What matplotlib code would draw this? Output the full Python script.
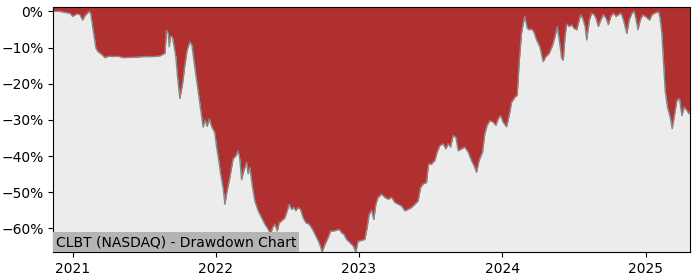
import numpy as np
import pandas as pd
import matplotlib
matplotlib.use("Agg")
import matplotlib.pyplot as plt
import matplotlib.dates as mdates
from matplotlib.ticker import PercentFormatter

# time as decimal years, drawdown in percent
years = [
    2020.865, 2020.911, 2020.946, 2020.981, 2021.000, 2021.028, 2021.051, 2021.070, 2021.086, 2021.116,
    2021.126, 2021.140, 2021.151, 2021.163, 2021.179, 2021.203, 2021.226, 2021.249, 2021.284, 2021.318,
    2021.353, 2021.423, 2021.493, 2021.563, 2021.610, 2021.645, 2021.656, 2021.668, 2021.675, 2021.684,
    2021.698, 2021.709, 2021.721, 2021.733, 2021.749, 2021.768, 2021.784, 2021.800, 2021.819, 2021.833,
    2021.847, 2021.866, 2021.889, 2021.912, 2021.926, 2021.940, 2021.954, 2021.973, 2021.992, 2022.006,
    2022.024, 2022.034, 2022.052, 2022.064, 2022.075, 2022.098, 2022.121, 2022.140, 2022.156, 2022.168,
    2022.180, 2022.196, 2022.215, 2022.226, 2022.238, 2022.257, 2022.273, 2022.296, 2022.320, 2022.343,
    2022.366, 2022.383, 2022.397, 2022.413, 2022.429, 2022.443, 2022.460, 2022.483, 2022.499, 2022.513,
    2022.529, 2022.545, 2022.559, 2022.575, 2022.592, 2022.610, 2022.629, 2022.652, 2022.676, 2022.699,
    2022.722, 2022.743, 2022.762, 2022.785, 2022.802, 2022.820, 2022.844, 2022.862, 2022.879, 2022.895,
    2022.913, 2022.936, 2022.960, 2022.978, 2022.994, 2023.018, 2023.041, 2023.057, 2023.071, 2023.088,
    2023.104, 2023.118, 2023.134, 2023.158, 2023.181, 2023.204, 2023.228, 2023.251, 2023.274, 2023.298,
    2023.321, 2023.344, 2023.367, 2023.390, 2023.413, 2023.430, 2023.448, 2023.472, 2023.486, 2023.507,
    2023.530, 2023.546, 2023.565, 2023.588, 2023.607, 2023.623, 2023.640, 2023.658, 2023.677, 2023.693,
    2023.716, 2023.739, 2023.763, 2023.786, 2023.809, 2023.821, 2023.839, 2023.863, 2023.879, 2023.895,
    2023.914, 2023.937, 2023.956, 2023.972, 2023.989, 2024.007, 2024.031, 2024.049, 2024.066, 2024.089,
    2024.105, 2024.119, 2024.135, 2024.147, 2024.158, 2024.175, 2024.189, 2024.205, 2024.221, 2024.240,
    2024.263, 2024.286, 2024.305, 2024.328, 2024.352, 2024.368, 2024.384, 2024.398, 2024.415, 2024.426,
    2024.438, 2024.450, 2024.468, 2024.485, 2024.501, 2024.520, 2024.531, 2024.547, 2024.561, 2024.578,
    2024.589, 2024.608, 2024.624, 2024.640, 2024.654, 2024.670, 2024.687, 2024.705, 2024.724, 2024.740,
    2024.757, 2024.775, 2024.794, 2024.810, 2024.829, 2024.845, 2024.869, 2024.885, 2024.904, 2024.920,
    2024.934, 2024.946, 2024.962, 2024.980, 2024.997, 2025.013, 2025.027, 2025.043, 2025.059, 2025.078,
    2025.089, 2025.101, 2025.113, 2025.124, 2025.136, 2025.152, 2025.171, 2025.185, 2025.199, 2025.218,
    2025.236, 2025.253, 2025.269, 2025.288, 2025.302, 2025.311,
]
drawdown = [
    0.0, 0.0, -0.3, -0.5, -1.4, -0.7, -0.9, -2.4, -1.2, 0.0,
    -0.5, -4.2, -7.0, -10.2, -11.2, -11.9, -12.8, -12.4, -12.5, -12.4,
    -12.8, -12.7, -12.5, -12.5, -12.3, -11.6, -5.3, -6.1, -9.8, -6.8,
    -7.2, -9.8, -12.5, -18.1, -24.1, -20.0, -14.9, -10.7, -8.4, -9.3,
    -13.5, -19.0, -25.5, -32.0, -30.0, -31.8, -29.7, -32.0, -33.4, -37.5,
    -42.0, -44.9, -49.1, -53.3, -50.5, -45.9, -40.8, -39.9, -38.5, -40.8,
    -46.5, -44.0, -41.7, -44.9, -43.1, -48.7, -52.4, -55.1, -57.0, -58.8,
    -60.2, -61.6, -59.7, -58.8, -60.7, -58.4, -57.9, -57.0, -55.1, -53.3,
    -54.7, -54.2, -55.1, -54.2, -54.7, -57.0, -58.4, -58.8, -60.2, -62.1,
    -63.9, -66.5, -64.4, -62.5, -60.7, -60.7, -60.5, -60.2, -61.2, -61.6,
    -63.0, -63.9, -64.8, -66.5, -63.5, -63.3, -63.0, -59.8, -56.1, -55.0,
    -57.5, -53.3, -51.4, -50.5, -51.4, -51.9, -51.4, -52.8, -53.3, -53.8,
    -55.1, -54.7, -54.2, -53.3, -52.4, -48.7, -47.7, -47.3, -42.2, -42.2,
    -41.2, -38.9, -37.1, -36.6, -38.0, -36.6, -37.5, -34.3, -34.8, -38.5,
    -38.0, -37.5, -38.9, -41.2, -43.1, -44.5, -41.2, -38.9, -33.8, -31.5,
    -30.2, -30.6, -31.5, -29.7, -28.8, -30.6, -31.9, -28.8, -25.1, -23.7,
    -23.2, -14.0, -6.1, -3.3, -1.4, -4.7, -5.1, -4.9, -5.6, -7.9,
    -9.8, -13.9, -12.5, -11.6, -9.3, -7.0, -4.2, -7.9, -13.0, -13.5,
    -7.0, -3.5, -4.2, -3.7, -4.7, -5.1, -3.3, -0.9, -1.9, -4.2,
    -7.9, -2.4, -0.5, -0.9, -1.9, -4.2, -2.4, -0.9, -1.9, -3.7,
    -1.4, -0.5, -1.4, -0.9, -0.5, -2.4, -6.1, -2.4, -0.5, 0.0,
    -2.4, -5.1, -2.4, -1.0, -1.4, -1.9, -2.4, -1.0, -0.5, -0.3,
    0.0, -1.9, -6.1, -13.5, -21.8, -26.4, -29.2, -32.4, -29.2, -24.6,
    -24.1, -28.8, -26.4, -27.4, -28.3, -27.5,
]
title = "CLBT (NASDAQ) - Drawdown Chart"


def to_dates(yrs):
    out = []
    for t in yrs:
        y = int(np.floor(t))
        start = pd.Timestamp(year=y, month=1, day=1)
        days = (pd.Timestamp(year=y + 1, month=1, day=1) - start).days
        out.append(start + pd.Timedelta(days=(t - y) * days))
    return out


dates = to_dates(years)
dd = np.array(drawdown)

fig = plt.figure(figsize=(7, 2.8), dpi=100)
ax = fig.add_axes([0.076, 0.1, 0.91, 0.875])
ax.set_facecolor("#ececec")

ax.fill_between(dates, dd, 10, color="#b03030", linewidth=0)
ax.plot(dates, dd, color="#888888", linewidth=1)

ax.set_xlim(dates[0], dates[-1])
ax.set_ylim(dd.min(), 1.2)
ax.yaxis.set_major_formatter(PercentFormatter(decimals=0))
ax.set_yticks([0, -10, -20, -30, -40, -50, -60])
ax.xaxis.set_major_locator(mdates.YearLocator())
ax.xaxis.set_major_formatter(mdates.DateFormatter("%Y"))
ax.tick_params(labelsize=10)

ax.text(0.004, 0.012, title, transform=ax.transAxes, fontsize=10,
        ha="left", va="bottom",
        bbox=dict(facecolor="#b4b4b4", edgecolor="none", pad=2))

fig.savefig("out.png", dpi=100)
